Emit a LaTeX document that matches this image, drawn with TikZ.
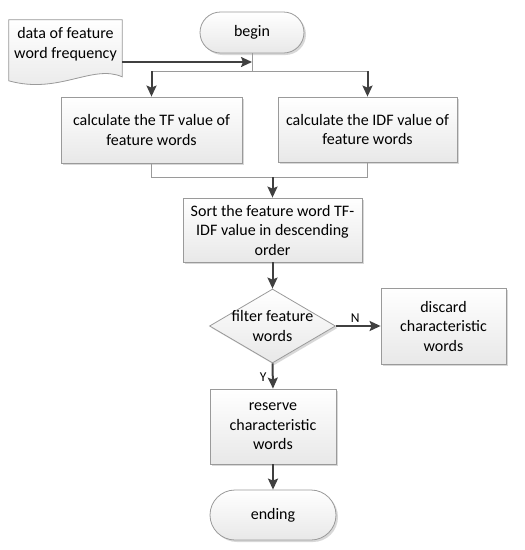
\documentclass[tikz,border=0pt]{standalone}
\usepackage{fontspec}
\setmainfont{Carlito}
\usetikzlibrary{arrows.meta,shapes.geometric,shadows,calc}
\definecolor{linec}{HTML}{404040}
\definecolor{bordc}{HTML}{9A9A9A}
\begin{document}
\begin{tikzpicture}[x=1pt,y=-1pt,
  every node/.style={font=\fontsize{16}{19.5}\selectfont, text=black},
  box/.style={draw=bordc, line width=0.8pt, top color=white, bottom color=black!9,
    drop shadow={shadow xshift=2pt,shadow yshift=-2pt,fill=black!30,opacity=0.5},
    align=center, inner sep=0pt},
  arr/.style={draw=linec, line width=2pt, -{Stealth[length=11pt,width=10pt,inset=2pt]}},
  joinline/.style={draw=bordc, line width=0.8pt},
  lbl/.style={font=\fontsize{13.5}{15}\selectfont}]
\useasboundingbox (0,0) rectangle (525,550);

% document shape
\node[align=center, minimum width=113pt, minimum height=48pt, inner sep=0pt] (doc) at (65.5,44) {\phantom{data of feature}};
\fill[black!30,opacity=0.5,shift={(2,2)}] (doc.north west) -- (doc.north east) -- ($(doc.north east)+(0,57)$)
  .. controls ($(doc.north east)+(-30,44)$) and ($(doc.north west)+(50,75)$) .. ($(doc.north west)+(0,61)$) -- cycle;
\path[draw=bordc, line width=0.8pt, top color=white, bottom color=black!9] (doc.north west) -- (doc.north east) -- ($(doc.north east)+(0,57)$)
  .. controls ($(doc.north east)+(-30,44)$) and ($(doc.north west)+(50,75)$) .. ($(doc.north west)+(0,61)$) -- cycle;
\node[align=center, inner sep=0pt] (doctext) at (doc) {data of feature\\word frequency};

\node[box, rounded corners=20.5pt, minimum width=104pt, minimum height=41pt] (begin) at (252,32.5) {begin};
\node[box, minimum width=181pt, minimum height=66pt] (tf) at (151.5,130) {calculate the TF value of\\feature words};
\node[box, minimum width=179pt, minimum height=65pt] (idf) at (367.5,129.5) {calculate the IDF value of\\feature words};
\node[box, minimum width=179pt, minimum height=64pt] (sort) at (272.5,230) {Sort the feature word TF-\\IDF value in descending\\order};
\node[box, diamond, minimum width=126pt, minimum height=74pt] (filt) at (272.5,326) {};
\node[align=center, inner sep=0pt] (filtt) at (filt) {filter feature\\words};
\node[box, minimum width=125pt, minimum height=76pt] (disc) at (443.5,326) {discard\\characteristic\\words};
\node[box, minimum width=126pt, minimum height=75pt] (res) at (273,426.5) {reserve\\characteristic\\words};
\node[box, rounded corners=25pt, minimum width=126pt, minimum height=50pt] (end) at (273,515) {ending};

\coordinate (split) at (252,71);
\coordinate (inpt) at (252,62);
\coordinate (merge) at (272.5,177);

\draw[joinline] (begin.south) -- (split);
\draw[joinline] (tf.north |- split) -- (idf.north |- split);
\draw[arr] (doc.east |- inpt) -- (inpt);
\draw[arr] (tf.north |- split) -- (tf.north);
\draw[arr] (idf.north |- split) -- (idf.north);
\draw[joinline] (tf.south) -- (tf.south |- merge) -- (idf.south |- merge) -- (idf.south);
\draw[arr] (merge) -- (sort.north);
\draw[arr] (sort.south) -- (filt.north);
\draw[arr] (filt.east) -- node[lbl, above, pos=0.43, yshift=-1pt] {N} (disc.west);
\draw[arr] (filt.south) -- node[lbl, left, pos=0.55, xshift=-2pt] {Y} (res.north);
\draw[arr] (res.south) -- (end.north);
\end{tikzpicture}
\end{document}
